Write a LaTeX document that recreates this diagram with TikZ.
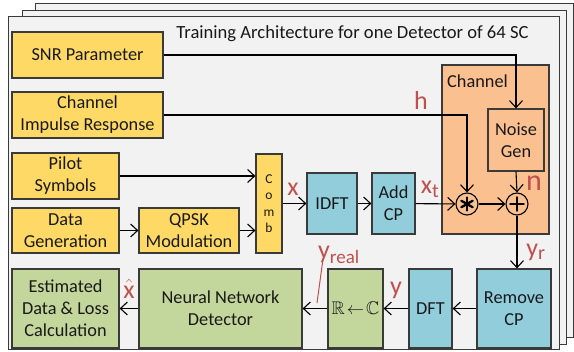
\documentclass[tikz,border=0pt]{standalone}
\usepackage{fontspec}
\usepackage{amssymb}
\setmainfont{Carlito}
\usetikzlibrary{arrows.meta}
\definecolor{frameback}{HTML}{F2F2F2}
\definecolor{edge}{HTML}{3A3A3A}
\definecolor{yel}{HTML}{FFD966}
\definecolor{blu}{HTML}{92CDDC}
\definecolor{grn}{HTML}{C3D69B}
\definecolor{org}{HTML}{FAC090}
\definecolor{lbl}{HTML}{C0504D}
\tikzset{
  frame/.style={draw=edge, line width=1pt, fill=frameback},
  blk/.style={draw=edge, line width=1.2pt, inner sep=0pt, align=center,
    font=\fontsize{18.3}{22}\selectfont, text=black!90},
  ybox/.style={blk, fill=yel},
  bbox/.style={blk, fill=blu},
  gbox/.style={blk, fill=grn},
  obox/.style={blk, fill=org},
  opcirc/.style={circle, draw=black, line width=1.1pt, fill=org, minimum size=22pt, inner sep=0pt},
  opsym/.style={draw=black, line cap=round},
  conn/.style={draw=black, line width=1.1pt, -{Straight Barb[length=7pt,width=13pt,line width=1.1pt]}},
  lab/.style={text=lbl, font=\fontsize{26}{28}\selectfont, inner sep=0pt},
}
\begin{document}
\begin{tikzpicture}[x=1pt,y=-1pt]
\useasboundingbox (0,0) rectangle (574,352);
% stacked frames
\path[frame] (35,4) rectangle (573,338);
\path[frame] (22,11) rectangle (566,345);
\path[frame] (8,17) rectangle (559,350);
\node[font=\fontsize{18.6}{22}\selectfont, text=black!90] (title) at (352.5,34) {Training Architecture for one Detector of 64 SC};
% channel box
\node[obox, minimum width=107pt, minimum height=169pt] (chan) at (495.5,149.5) {};
\node[anchor=north west, font=\fontsize{18.3}{22}\selectfont, text=black!90, inner sep=0pt] (chanlbl) at (447,75) {Channel};
% blocks
\node[ybox, minimum width=151pt, minimum height=46pt] (snr) at (87.5,55) {SNR Parameter};
\node[ybox, minimum width=151pt, minimum height=46pt] (cir) at (87.5,115) {Channel\\Impulse Response};
\node[ybox, minimum width=107pt, minimum height=46pt] (pilot) at (65.5,176) {Pilot\\Symbols};
\node[ybox, minimum width=107pt, minimum height=45pt] (datag) at (65.5,230.5) {Data\\Generation};
\node[ybox, minimum width=100pt, minimum height=45pt] (qpsk) at (189,230.5) {QPSK\\Modulation};
\node[ybox, minimum width=26pt, minimum height=99pt, font=\fontsize{13.5}{16.5}\selectfont] (comb) at (269,203.5) {C\\o\\m\\b};
\node[bbox, minimum width=50pt, minimum height=61pt] (idft) at (332,203.5) {IDFT};
\node[bbox, minimum width=43pt, minimum height=61pt] (addcp) at (393.5,203.5) {Add\\CP};
\node[obox, minimum width=56pt, minimum height=62pt] (noise) at (516,140) {Noise\\Gen};
\node[opcirc] (mult) at (467,204) {};
\node[opcirc] (plus) at (517,204) {};
\draw[opsym, line width=2.3pt] ([shift={(90:6.5)}]mult.center) -- ([shift={(270:6.5)}]mult.center);
\draw[opsym, line width=2.3pt] ([shift={(30:6.5)}]mult.center) -- ([shift={(210:6.5)}]mult.center);
\draw[opsym, line width=2.3pt] ([shift={(150:6.5)}]mult.center) -- ([shift={(330:6.5)}]mult.center);
\draw[opsym, line width=1.4pt] ([shift={(0:7)}]plus.center) -- ([shift={(180:7)}]plus.center);
\draw[opsym, line width=1.4pt] ([shift={(90:7)}]plus.center) -- ([shift={(270:7)}]plus.center);
\node[gbox, minimum width=107pt, minimum height=79pt] (est) at (65.5,308.5) {Estimated\\Data \& Loss\\Calculation};
\node[gbox, minimum width=163pt, minimum height=79pt] (nn) at (220.5,308.5) {Neural Network\\Detector};
\node[gbox, minimum width=55pt, minimum height=79pt] (rc) at (355.5,308.5) {$\mathbb{R}\!\leftarrow\!\mathbb{C}$};
\node[bbox, minimum width=43pt, minimum height=79pt] (dft) at (430.5,308.5) {DFT};
\node[bbox, minimum width=74pt, minimum height=79pt] (rcp) at (514,308.5) {Remove\\CP};
% connectors
\draw[conn] (snr.east) -| (noise.north);
\draw[conn] (cir.east) -| (mult.north);
\draw[conn] (pilot.east) -- (pilot.east -| comb.west);
\draw[conn] (datag) -- (qpsk);
\draw[conn] (qpsk.east) -- (qpsk.east -| comb.west);
\draw[conn] (comb.east) -- (idft.west);
\draw[conn] (idft) -- (addcp);
\draw[conn] (addcp) -- (mult);
\draw[conn] (mult) -- (plus);
\draw[conn] (noise.south) -- (plus.north);
\draw[conn] (plus.south) -- (plus.south |- rcp.north);
\draw[conn] (rcp) -- (dft);
\draw[conn] (dft) -- (rc);
\draw[conn] (rc) -- (nn);
\draw[conn] (nn) -- (est);
% labels
\node[lab] (lx) at (293,189) {x};
\node[lab] (lxt) at (430,189) {x\textsubscript{\fontsize{20}{20}\selectfont t}};
\node[lab] (lh) at (421,100) {h};
\node[lab, font=\fontsize{30}{30}\selectfont] (ln) at (534,183) {n};
\node[lab] (lyr) at (536,252) {y\textsubscript{\fontsize{20}{20}\selectfont r}};
\node[lab] (ly) at (396,290) {y};
\node[lab, anchor=west] (lyreal) at (318,255) {y\textsubscript{\fontsize{19}{19}\selectfont real}};
\node[lab] (lxhat) at (129,289) {$\hat{\mbox{x}}$};
\coordinate (rl1) at (323,259);
\coordinate (rl2) at (317,303);
\draw[draw=lbl, line width=1pt] (rl1) -- (rl2);
\end{tikzpicture}
\end{document}
